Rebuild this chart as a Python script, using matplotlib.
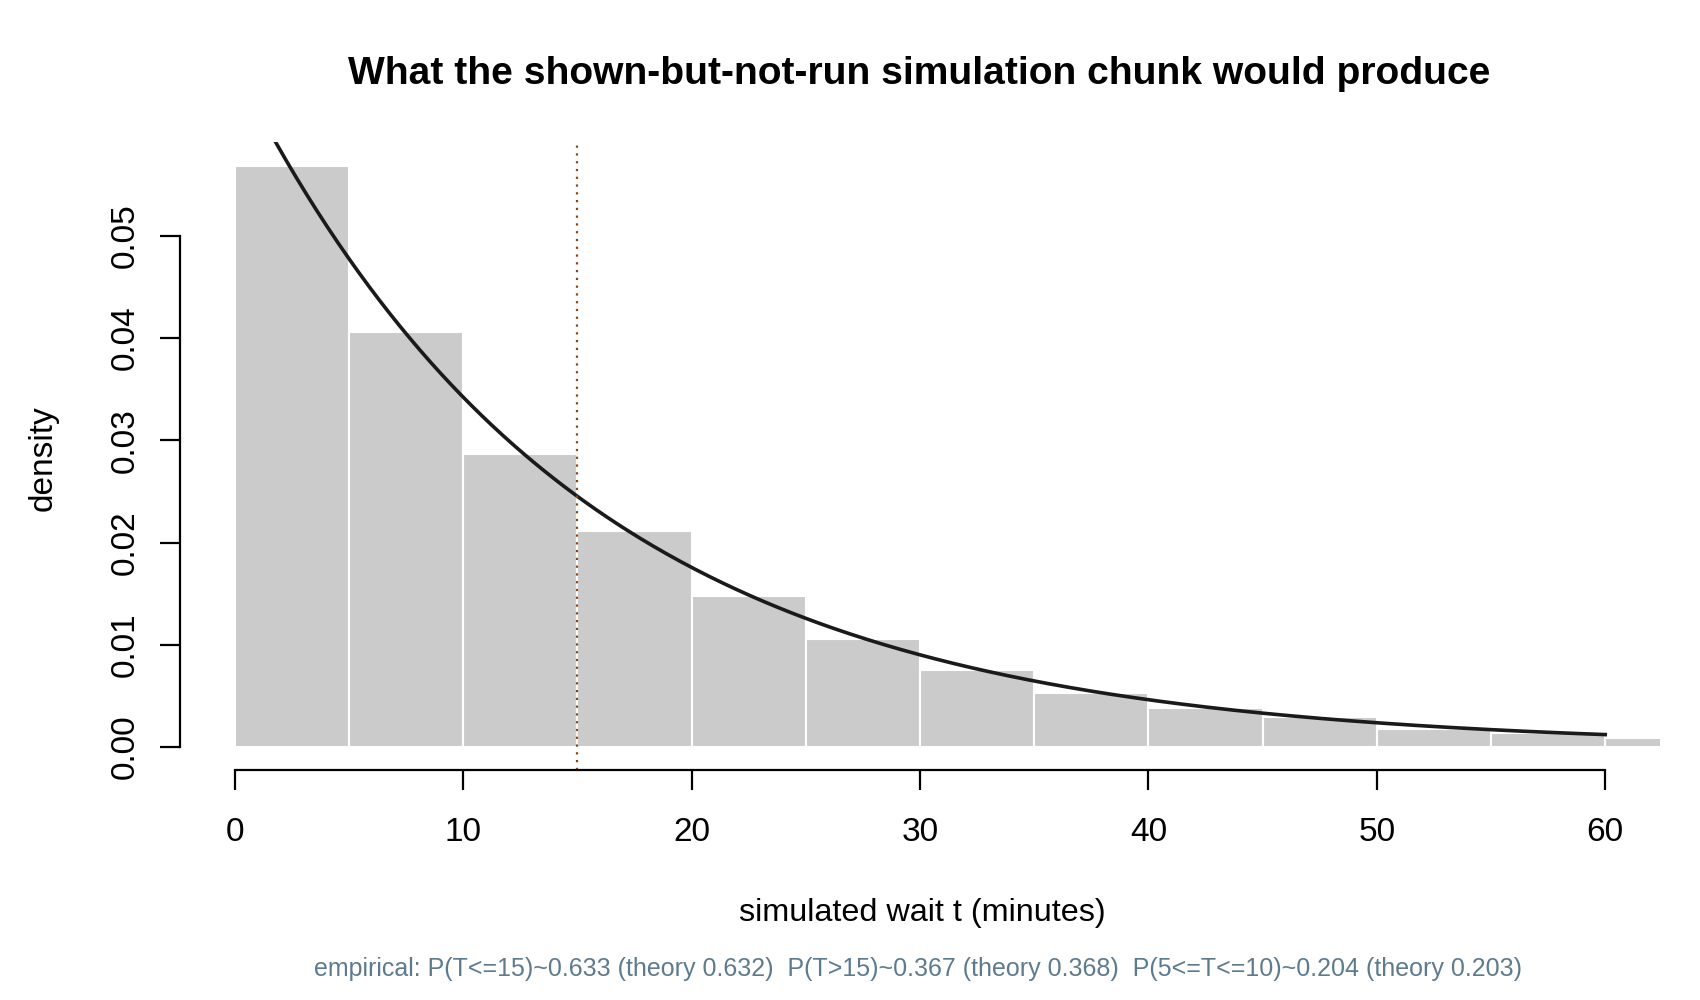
#!/usr/bin/env python3
# Histogram of simulated waits with the exponential density on top
import numpy as np
import matplotlib
matplotlib.use("Agg")
import matplotlib.pyplot as plt

plt.rcParams['font.family'] = ['Liberation Sans', 'DejaVu Sans']

# Histogram bins (minutes) and densities
bin_edges = [0, 5, 10, 15, 20, 25, 30, 35, 40, 45, 50, 55, 60, 65]
densities = [0.0568, 0.0406, 0.0287, 0.0211, 0.0148, 0.0106, 0.0075,
             0.0053, 0.0038, 0.0029, 0.0018, 0.0014, 0.0009]

# Theoretical exponential wait, mean 15 minutes
mean_wait = 15
cutoff = 15
x_ticks = [0, 10, 20, 30, 40, 50, 60]
y_ticks = [0.00, 0.01, 0.02, 0.03, 0.04, 0.05]

title = "What the shown-but-not-run simulation chunk would produce"
footnote = ("empirical: P(T<=15)~0.633 (theory 0.632)  "
            "P(T>15)~0.367 (theory 0.368)  P(5<=T<=10)~0.204 (theory 0.203)")

fig = plt.figure(figsize=(17, 10), dpi=100)
ax = fig.add_axes([0.1058, 0.2296, 0.8707, 0.8583 - 0.2296])

lefts = bin_edges[:-1]
widths = np.diff(bin_edges)
ax.bar(lefts, densities, width=widths, align='edge', color='#CBCBCB',
       edgecolor='white', linewidth=1.5)

t = np.linspace(0, 60, 400)
ax.plot(t, np.exp(-t / mean_wait) / mean_wait, color='#1a1a1a', linewidth=2.6)
ax.axvline(cutoff, color='#8B4513', linestyle=(0, (1, 2.5)), linewidth=1.6)

ax.set_xlim(-2.4, 62.4)
ax.set_ylim(-0.00228, 0.0592)

for side in ['top', 'right']:
    ax.spines[side].set_visible(False)
ax.spines['left'].set_bounds(0, 0.05)
ax.spines['bottom'].set_bounds(0, 60)
for side in ['left', 'bottom']:
    ax.spines[side].set_linewidth(1.6)

ax.set_xticks(x_ticks)
ax.set_yticks(y_ticks)
ax.set_yticklabels([f"{v:.2f}" for v in y_ticks], rotation=90, va='center')
ax.tick_params(axis='both', length=14.4, width=1.6, labelsize=24)
ax.tick_params(axis='x', pad=19)
ax.tick_params(axis='y', pad=14)

fig.text(0.5405, 0.926, title, ha='center', va='center',
         fontsize=28.1, fontweight='bold')
fig.text(0.5425, 0.087, "simulated wait t (minutes)", ha='center',
         va='center', fontsize=23.3)
fig.text(0.0256, 0.542, "density", ha='center', va='center',
         rotation=90, fontsize=24)
fig.text(0.540, 0.031, footnote, ha='center', va='center',
         fontsize=18, color='#5E7B8E')

fig.savefig("out.png", dpi=100)
